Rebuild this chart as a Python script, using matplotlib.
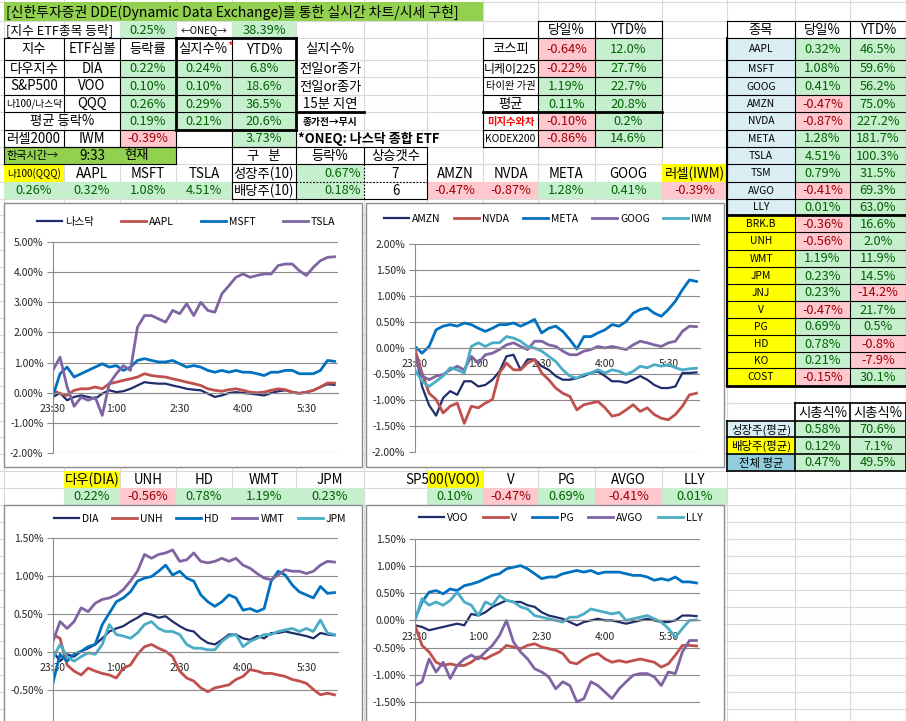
import numpy as np
import matplotlib
matplotlib.use('Agg')
import matplotlib.pyplot as plt
from matplotlib.patches import Rectangle
from matplotlib.ticker import FuncFormatter

plt.rcParams['font.family'] = ['Noto Sans CJK KR', 'DejaVu Sans']

W, H = 906, 721

# ---------------- table data ----------------
title = '[신한투자증권 DDE(Dynamic Data Exchange)를 통한 실시간 차트/시세 구현]'
oneq_day, oneq_ytd = 0.25, 38.39

idx_names = ['다우지수', 'S&P500', '나100/나스닥']
idx_etf = ['DIA', 'VOO', 'QQQ']
idx_chg = [0.22, 0.10, 0.26]
idx_real = [0.24, 0.10, 0.29]
idx_ytd = [6.8, 18.6, 36.5]
idx_note = ['전일or종가', '전일or종가', '15분 지연']
avg_chg, avg_real, avg_ytd = 0.19, 0.21, 20.6
iwm_chg, iwm_ytd = -0.39, 3.73
kr_time = '9:33'

grp_names = ['성장주(10)', '배당주(10)']
grp_chg = [0.67, 0.18]
grp_up = [7, 6]

world_names = ['코스피', '니케이225', '타이완 가권', '평균', '미지수와차', 'KODEX200']
world_day = [-0.64, -0.22, 1.19, 0.11, -0.10, -0.86]
world_ytd = [12.0, 27.7, 22.7, 20.8, 0.2, 14.6]

stock_names = ['AAPL', 'MSFT', 'GOOG', 'AMZN', 'NVDA', 'META', 'TSLA', 'TSM', 'AVGO', 'LLY',
               'BRK.B', 'UNH', 'WMT', 'JPM', 'JNJ', 'V', 'PG', 'HD', 'KO', 'COST']
stock_day = [0.32, 1.08, 0.41, -0.47, -0.87, 1.28, 4.51, 0.79, -0.41, 0.01,
             -0.36, -0.56, 1.19, 0.23, 0.23, -0.47, 0.69, 0.78, 0.21, -0.15]
stock_ytd = [46.5, 59.6, 56.2, 75.0, 227.2, 181.7, 100.3, 31.5, 69.3, 63.0,
             16.6, 2.0, 11.9, 14.5, -14.2, 21.7, 0.5, -0.8, -7.9, 30.1]

cap_names = ['성장주(평균)', '배당주(평균)', '전체 평균']
cap_day = [0.58, 0.12, 0.47]
cap_ytd = [70.6, 7.1, 49.5]

hdr1 = ['나100(QQQ)', 'AAPL', 'MSFT', 'TSLA']
hdr1_val = [0.26, 0.32, 1.08, 4.51]
hdr2 = ['AMZN', 'NVDA', 'META', 'GOOG', '러셀(IWM)']
hdr2_val = [-0.47, -0.87, 1.28, 0.41, -0.39]
hdr3 = ['다우(DIA)', 'UNH', 'HD', 'WMT', 'JPM']
hdr3_val = [0.22, -0.56, 0.78, 1.19, 0.23]
hdr4 = ['SP500(VOO)', 'V', 'PG', 'AVGO', 'LLY']
hdr4_val = [0.10, -0.47, 0.69, -0.41, 0.01]

# ---------------- intraday series (%), 23:30 -> close ----------------
tick_labels = ['23:30', '1:00', '2:30', '4:00', '5:30']
tick_pos = [0, 90, 180, 270, 360]

nasdaq = [-0.14, -0.01, -0.25, -0.14, -0.09, -0.14, -0.2, -0.03, 0.08, 0.02, 0.05, 0.13, 0.24, 0.35,
          0.32, 0.3, 0.3, 0.24, 0.19, 0.13, 0.1, 0.08, -0.03, -0.14, -0.09, -0.01, 0.02, -0.01, -0.03,
          -0.06, -0.09, -0.01, 0.05, 0.08, 0.02, -0.01, 0.02, 0.08, 0.19, 0.28, 0.26]
aapl = [0.08, -0.03, -0.09, 0.08, 0.13, 0.13, 0.19, 0.13, 0.3, 0.35, 0.41, 0.46, 0.52, 0.63, 0.57,
        0.54, 0.52, 0.46, 0.41, 0.35, 0.3, 0.24, 0.13, 0.08, 0.05, 0.1, 0.13, 0.08, 0.02, 0.0, 0.02,
        0.08, 0.13, 0.1, 0.02, -0.03, 0.02, 0.08, 0.19, 0.32, 0.32]
msft = [-0.1, 0.63, 0.85, 0.52, 0.63, 0.74, 0.85, 0.96, 0.85, 0.9, 0.74, 0.85, 1.07, 1.13, 1.07,
        1.02, 1.02, 1.07, 0.96, 0.85, 0.9, 0.85, 0.74, 0.68, 0.74, 0.68, 0.74, 0.68, 0.68, 0.63, 0.57,
        0.68, 0.68, 0.74, 0.74, 0.63, 0.63, 0.63, 0.74, 1.07, 1.04]
tsla = [0.75, 1.18, 0.2, -0.45, -0.15, -0.25, -0.15, -0.75, 0.3, 0.63, 0.9, 0.74, 2.17, 2.56, 2.56,
        2.45, 2.34, 2.73, 2.62, 2.95, 2.56, 3.0, 2.73, 2.67, 3.28, 3.55, 3.83, 3.94, 3.83, 3.89, 3.94,
        3.94, 4.22, 4.27, 4.27, 4.05, 3.89, 4.16, 4.38, 4.49, 4.51]

amzn = [-0.03, -0.74, -1.1, -1.3, -0.96, -0.83, -0.9, -0.64, -0.64, -0.74, -0.71, -0.61, -0.45,
        -0.16, -0.13, -0.42, -0.22, -0.22, -0.35, -0.42, -0.54, -0.61, -0.61, -0.58, -0.54, -0.48,
        -0.45, -0.54, -0.64, -0.64, -0.67, -0.61, -0.54, -0.61, -0.71, -0.77, -0.77, -0.74, -0.48,
        -0.48, -0.47]
nvda = [-0.03, -0.48, -0.87, -0.99, -1.25, -1.12, -1.06, -1.45, -1.12, -1.15, -1.06, -0.99, -0.48,
        -0.29, -0.42, -0.42, -0.29, -0.22, -0.48, -0.61, -0.77, -0.87, -0.93, -1.19, -1.09, -1.06,
        -1.03, -1.15, -1.31, -1.28, -1.19, -1.09, -1.22, -1.15, -1.28, -1.35, -1.38, -1.28, -1.12,
        -0.9, -0.87]
meta = [0.03, -0.1, 0.03, 0.35, 0.42, 0.45, 0.42, 0.48, 0.45, 0.38, 0.32, 0.38, 0.45, 0.45, 0.48,
        0.42, 0.48, 0.55, 0.29, 0.38, 0.42, 0.32, 0.16, -0.02, 0.22, 0.22, 0.29, 0.35, 0.45, 0.42,
        0.51, 0.67, 0.74, 0.77, 0.67, 0.61, 0.74, 0.9, 1.12, 1.31, 1.28]
goog = [-0.16, -0.54, -0.61, -0.54, -0.51, -0.42, -0.35, -0.42, -0.16, -0.29, -0.13, -0.1, -0.03,
        0.06, 0.1, 0.03, -0.03, 0.13, 0.13, 0.06, 0.03, -0.06, -0.13, -0.13, -0.06, -0.03, 0.03, 0.0,
        0.03, 0.0, -0.03, 0.06, 0.13, 0.1, 0.06, 0.03, 0.1, 0.13, 0.32, 0.42, 0.41]
iwm = [-0.42, -0.64, -0.74, -0.64, -0.54, -0.38, -0.42, -0.48, 0.03, 0.1, 0.03, 0.1, 0.1, 0.22, 0.19,
       0.13, 0.03, 0.0, -0.06, -0.16, -0.26, -0.42, -0.54, -0.58, -0.51, -0.48, -0.42, -0.48, -0.42,
       -0.45, -0.51, -0.45, -0.35, -0.38, -0.32, -0.35, -0.32, -0.38, -0.42, -0.4, -0.39]

dia = [0.01, -0.12, -0.03, -0.06, 0.01, 0.05, 0.1, 0.18, 0.27, 0.31, 0.34, 0.4, 0.45, 0.51, 0.49,
       0.45, 0.47, 0.4, 0.34, 0.29, 0.27, 0.18, 0.12, 0.1, 0.16, 0.23, 0.23, 0.18, 0.16, 0.21, 0.18,
       0.25, 0.25, 0.27, 0.25, 0.23, 0.21, 0.18, 0.25, 0.23, 0.22]
unh = [0.23, 0.18, -0.17, -0.25, -0.3, -0.21, -0.25, -0.28, -0.3, -0.34, -0.21, -0.17, -0.03, 0.07,
       0.1, 0.05, 0.01, -0.06, -0.25, -0.34, -0.38, -0.47, -0.52, -0.47, -0.45, -0.43, -0.36, -0.32,
       -0.23, -0.25, -0.28, -0.28, -0.3, -0.32, -0.36, -0.38, -0.41, -0.49, -0.56, -0.54, -0.56]
hd = [-0.4, -0.03, -0.12, -0.03, 0.01, 0.07, 0.1, 0.36, 0.51, 0.66, 0.71, 0.79, 0.93, 0.97, 0.99,
      1.06, 1.14, 1.01, 1.06, 0.97, 0.93, 0.75, 0.66, 0.6, 0.66, 0.75, 0.71, 0.55, 0.57, 0.53, 0.57,
      0.93, 1.06, 1.01, 0.88, 0.79, 0.75, 0.71, 0.86, 0.77, 0.78]
wmt = [0.14, 0.4, 0.31, 0.4, 0.58, 0.53, 0.64, 0.69, 0.71, 0.75, 0.82, 0.93, 1.06, 1.28, 1.23, 1.28,
       1.3, 1.34, 1.19, 1.21, 1.3, 1.19, 1.17, 1.19, 1.23, 1.19, 1.23, 1.14, 1.1, 1.03, 0.97, 0.95,
       1.01, 1.08, 1.06, 1.06, 1.03, 1.06, 1.14, 1.19, 1.18]
jpm = [-0.08, 0.1, -0.06, -0.12, -0.06, -0.01, -0.03, 0.1, 0.36, 0.23, 0.21, 0.18, 0.25, 0.36, 0.4,
       0.31, 0.27, 0.27, 0.23, 0.1, 0.05, 0.05, 0.03, 0.03, 0.14, 0.21, 0.23, 0.07, 0.14, 0.18, 0.23,
       0.23, 0.27, 0.29, 0.31, 0.27, 0.31, 0.27, 0.42, 0.25, 0.23]

voo = [-0.09, -0.12, -0.18, -0.15, -0.12, -0.09, -0.06, -0.09, 0.12, 0.09, 0.15, 0.25, 0.31, 0.37,
       0.34, 0.34, 0.28, 0.25, 0.15, 0.09, 0.06, 0.03, -0.03, -0.09, -0.03, 0.0, 0.03, 0.0, 0.0,
       -0.03, -0.06, -0.03, 0.0, 0.03, 0.0, -0.03, -0.03, 0.0, 0.09, 0.09, 0.08]
visa = [-0.09, -0.46, -0.58, -0.77, -0.83, -0.8, -0.83, -0.83, -0.77, -0.67, -0.71, -0.64, -0.58,
        -0.46, -0.49, -0.52, -0.46, -0.43, -0.49, -0.52, -0.55, -0.61, -0.77, -0.8, -0.71, -0.64,
        -0.61, -0.71, -0.77, -0.74, -0.77, -0.74, -0.71, -0.74, -0.77, -0.86, -0.8, -0.64, -0.46,
        -0.46, -0.47]
pg = [0.03, 0.34, 0.52, 0.55, 0.49, 0.58, 0.55, 0.64, 0.67, 0.71, 0.77, 0.83, 0.86, 0.95, 0.98, 1.01,
      0.95, 0.86, 0.77, 0.8, 0.8, 0.86, 0.89, 0.92, 0.89, 0.92, 0.86, 0.89, 0.89, 0.89, 0.86, 0.83,
      0.83, 0.8, 0.74, 0.77, 0.74, 0.8, 0.71, 0.71, 0.69]
avgo = [-1.2, -1.13, -0.71, -0.95, -0.77, -1.07, -0.83, -0.71, -0.64, -0.71, -0.58, -0.46, -0.28,
        0.0, -0.4, -0.58, -0.71, -0.89, -0.95, -1.04, -1.26, -1.13, -1.2, -1.5, -1.44, -1.13, -1.2,
        -1.32, -1.44, -1.26, -1.13, -1.01, -0.98, -0.98, -1.04, -1.2, -0.95, -0.98, -0.58, -0.37,
        -0.37]
lly = [0.0, 0.4, 0.28, 0.34, 0.28, 0.37, 0.52, 0.34, 0.28, 0.09, 0.34, 0.28, 0.46, 0.37, 0.34, 0.25,
       0.21, 0.09, 0.06, 0.03, 0.0, -0.03, 0.06, 0.06, 0.12, 0.21, 0.18, 0.15, 0.12, 0.15, 0.0, 0.03,
       0.06, 0.09, 0.03, -0.03, -0.15, -0.31, -0.15, 0.0, 0.01]

# ---------------- styles ----------------
GREEN_F, GREEN_T = '#C6EFCE', '#006100'
RED_F, RED_T = '#FFC7CE', '#9C0006'
line_colors = ['#1F2D6B', '#C0504D', '#0070C0', '#8064A2', '#4BACC6']
line_widths = [1.6, 2.0, 2.0, 2.0, 2.0]

cols = [4, 64, 120, 176, 232, 296, 364, 427, 483, 538, 595, 662, 727, 795, 850, 906]
rows = [2, 21, 38, 60, 77, 95, 112, 130, 147, 164, 182, 199, 215, 232, 250, 267, 284, 301, 318,
        335, 352, 368, 386, 403, 421, 437, 454, 471, 488, 505, 522, 539, 556, 573, 590, 607, 624,
        641, 658, 675, 692, 709, 726]

fig = plt.figure(figsize=(W / 100, H / 100), dpi=100)
sh = fig.add_axes([0, 0, 1, 1])
sh.set_xlim(0, W)
sh.set_ylim(H, 0)
sh.axis('off')

for x in cols:
    sh.plot([x, x], [0, H], color='#DADADA', lw=0.8, zorder=0)
for y in rows:
    sh.plot([0, W], [y, y], color='#DADADA', lw=0.8, zorder=0)


def cell(c0, r0, text='', c1=None, r1=None, fill=None, color='black', size=9.2,
         ha='center', weight='normal', dx=3):
    c1 = c0 + 1 if c1 is None else c1
    r1 = r0 + 1 if r1 is None else r1
    x0, x1, y0, y1 = cols[c0], cols[c1], rows[r0], rows[r1]
    if fill:
        sh.add_patch(Rectangle((x0, y0), x1 - x0, y1 - y0, facecolor=fill, edgecolor='none', zorder=1))
    if text != '':
        tx = {'center': (x0 + x1) / 2, 'left': x0 + dx, 'right': x1 - dx}[ha]
        sh.text(tx, (y0 + y1) / 2 + 0.5, text, ha=ha, va='center', fontsize=size, color=color,
                fontweight=weight, zorder=3)


def pct_cell(c0, r0, v, fmt='{:.2f}%', **kw):
    if v >= 0:
        cell(c0, r0, fmt.format(v), fill=GREEN_F, color=GREEN_T, **kw)
    else:
        cell(c0, r0, fmt.format(v), fill=RED_F, color=RED_T, **kw)


def hline(c0, c1, r, lw=0.8, ls='-'):
    sh.plot([cols[c0], cols[c1]], [rows[r], rows[r]], color='black', lw=lw, ls=ls, zorder=2)


def vline(c, r0, r1, lw=0.8, ls='-'):
    sh.plot([cols[c], cols[c]], [rows[r0], rows[r1]], color='black', lw=lw, ls=ls, zorder=2)


def box(c0, r0, c1, r1, lw=0.8):
    hline(c0, c1, r0, lw)
    hline(c0, c1, r1, lw)
    vline(c0, r0, r1, lw)
    vline(c1, r0, r1, lw)


# title rows
cell(0, 0, title, c1=8, fill='#92D050', ha='left', size=10, dx=2)
cell(0, 1, '[지수 ETF종목 등락]', c1=2, ha='left', dx=2)
pct_cell(2, 1, oneq_day)
cell(3, 1, '←ONEQ→', size=7)
pct_cell(4, 1, oneq_ytd)

# index table
for c, t in enumerate(['지수', 'ETF심볼', '등락률']):
    cell(c, 2, t, size=9.6)
sh.text(227, 49.5, '실지수%', ha='right', va='center', fontsize=9.6, zorder=3)
sh.text(227, 47, '*', ha='left', va='center', fontsize=9, color='red', zorder=3)
cell(4, 2, 'YTD%', size=9.6)
cell(5, 2, '실지수%', size=9.6)
for i in range(3):
    cell(0, 3 + i, idx_names[i], size=9.6 if i < 2 else 7)
    cell(1, 3 + i, idx_etf[i], size=9.6)
    pct_cell(2, 3 + i, idx_chg[i])
    pct_cell(3, 3 + i, idx_real[i])
    pct_cell(4, 3 + i, idx_ytd[i], fmt='{:.1f}%')
    cell(5, 3 + i, idx_note[i], size=9.6)
cell(0, 6, '평균 등락%', c1=2, size=9.6)
pct_cell(2, 6, avg_chg)
pct_cell(3, 6, avg_real)
pct_cell(4, 6, avg_ytd, fmt='{:.1f}%')
cell(5, 6, '종가전→무시', size=7, weight='bold')
cell(0, 7, '러셀2000', size=9.6)
cell(1, 7, 'IWM', size=9.6)
pct_cell(2, 7, iwm_chg)
pct_cell(4, 7, iwm_ytd)
cell(5, 7, '*ONEQ: 나스닥 종합 ETF', c1=8, ha='left', weight='bold', size=9.4, dx=2)

for r in range(2, 9):
    hline(0, 5, r)
for c in [0, 2, 3, 4, 5]:
    vline(c, 2, 8)
vline(1, 2, 6)
vline(1, 7, 8)
box(3, 2, 5, 7, lw=2)
hline(5, 6, 6, lw=2)

# korean time
cell(0, 8, '', c1=3, fill='#92D050')
cell(0, 8, '한국시간→', size=8, ha='left', dx=2)
cell(1, 8, kr_time, size=9.6)
sh.text(137, 155.5, '현재', ha='center', va='center', fontsize=9.6, zorder=3)
box(0, 8, 3, 9)

# growth / dividend group
cell(4, 8, '구   분', size=9.6)
cell(5, 8, '등락%', size=9.6)
cell(6, 8, '상승갯수', size=9.6)
for i in range(2):
    cell(4, 9 + i, grp_names[i], size=9.6)
    cell(5, 9 + i, '{:.2f}%'.format(grp_chg[i]), fill=GREEN_F, color=GREEN_T, ha='right')
    cell(6, 9 + i, str(grp_up[i]), size=9.6)
hline(4, 7, 8)
hline(4, 7, 9)
hline(4, 5, 10)
hline(5, 7, 10, ls=(0, (1.5, 1.5)))
hline(4, 7, 11)
vline(4, 8, 11)
vline(5, 8, 11)
vline(6, 8, 9)
vline(6, 9, 11, ls=(0, (1.5, 1.5)))
vline(7, 8, 11)

# chart header cells
for i in range(4):
    cell(i, 9, hdr1[i], fill='#FFFF00' if i == 0 else None, size=7 if i == 0 else 9.6)
    pct_cell(i, 10, hdr1_val[i])
for i in range(5):
    cell(7 + i, 9, hdr2[i], fill='#FFFF00' if i == 4 else None, size=9.6)
    pct_cell(7 + i, 10, hdr2_val[i])

# world index table
cell(9, 1, '당일%', size=9.6)
cell(10, 1, 'YTD%', size=9.6)
for i in range(6):
    small = world_names[i] in ('타이완 가권', 'KODEX200', '미지수와차')
    cell(8, 2 + i, world_names[i], size=7.4 if small else (8.6 if i == 1 else 9.6),
         color='red' if i == 4 else 'black', weight='bold' if i == 4 else 'normal')
    pct_cell(9, 2 + i, world_day[i])
    pct_cell(10, 2 + i, world_ytd[i], fmt='{:.1f}%')
for r in range(2, 9):
    hline(8, 11, r)
hline(9, 11, 1)
for c in range(8, 12):
    vline(c, 2, 8)
vline(9, 1, 2)
vline(10, 1, 2)
vline(11, 1, 2)
hline(8, 11, 6, lw=2)

# stock table
cell(12, 1, '종목', size=9.6)
cell(13, 1, '당일%', size=9.6)
cell(14, 1, 'YTD%', size=9.6)
for i, name in enumerate(stock_names):
    cell(12, 2 + i, name, fill='#DAEEF3' if i < 10 else '#FFFF00', size=7.4)
    pct_cell(13, 2 + i, stock_day[i])
    pct_cell(14, 2 + i, stock_ytd[i], fmt='{:.1f}%')
for r in range(1, 23):
    hline(12, 15, r)
for c in range(12, 16):
    vline(c, 1, 22)
hline(12, 15, 12, lw=2)
hline(12, 15, 22, lw=2)
vline(12, 2, 22, lw=1.5)

# cap weighted table
cell(13, 23, '시총식%', size=9.6)
cell(14, 23, '시총식%', size=9.6)
cap_fill = ['#DAEEF3', '#FFFF00', '#92CDDC']
for i in range(3):
    cell(12, 24 + i, cap_names[i], fill=cap_fill[i], size=8.2)
    pct_cell(13, 24 + i, cap_day[i])
    pct_cell(14, 24 + i, cap_ytd[i], fmt='{:.1f}%')
for r in range(24, 28):
    hline(12, 15, r, lw=1.2)
hline(13, 15, 23, lw=1.2)
for c in range(12, 16):
    vline(c, 24, 27, lw=1.2)
vline(13, 23, 24, lw=1.2)
vline(14, 23, 24, lw=1.2)
vline(15, 23, 24, lw=1.2)

# lower chart headers
for i in range(5):
    cell(1 + i, 27, hdr3[i], fill='#FFFF00' if i == 0 else None, size=9.6)
    pct_cell(1 + i, 28, hdr3_val[i])
    if i == 0:
        cell(7, 27, '', fill='#FFFF00')
        sh.text(cols[8] - 3, 480, hdr4[i], ha='right', va='center', fontsize=9.6, zorder=3)
    else:
        cell(7 + i, 27, hdr4[i], size=9.6)
    pct_cell(7 + i, 28, hdr4_val[i])

# chart boxes
for bx in [(4, 203, 362, 467), (366, 203, 724, 467), (4, 505, 362, 740), (366, 505, 724, 740)]:
    sh.add_patch(Rectangle((bx[0], bx[1]), bx[2] - bx[0], bx[3] - bx[1], facecolor='white',
                           edgecolor='#8C8C8C', lw=1.0, zorder=5))


def pfmt(v, p):
    return '{:.2f}%'.format(0.0 if abs(v) < 1e-9 else v)


def add_chart(px, series, names, ylim, step, leg_xy, colspace, tick_lo=None):
    x0, y0, x1, y1 = px
    ax = fig.add_axes([x0 / W, 1 - y1 / H, (x1 - x0) / W, (y1 - y0) / H])
    ax.patch.set_visible(False)
    for k, v in enumerate(series):
        t = np.linspace(0, 400, len(v))
        ax.plot(t, v, color=line_colors[k], lw=line_widths[k], label=names[k],
                solid_joinstyle='round')
    ax.set_xlim(0, 405)
    ax.set_ylim(*ylim)
    lo = ylim[0] if tick_lo is None else tick_lo
    ax.set_yticks(np.round(np.arange(lo, ylim[1] + 1e-6, step), 2))
    ax.yaxis.set_major_formatter(FuncFormatter(pfmt))
    ax.set_xticks(tick_pos)
    ax.set_xticklabels(tick_labels)
    ax.grid(axis='y', color='#8C8C8C', lw=0.8)
    ax.set_axisbelow(True)
    for s in ['top', 'right']:
        ax.spines[s].set_visible(False)
    ax.spines['left'].set_color('#8C8C8C')
    ax.spines['bottom'].set_position(('data', 0))
    ax.spines['bottom'].set_color('#8C8C8C')
    ax.tick_params(axis='y', length=4, color='#8C8C8C', labelsize=7.5, labelcolor='#262626', pad=3)
    ax.tick_params(axis='x', length=0, labelsize=7.5, labelcolor='#262626', pad=8)
    ax.legend(loc='center', bbox_to_anchor=(leg_xy[0] / W, 1 - leg_xy[1] / H),
              bbox_transform=fig.transFigure, ncol=len(series), frameon=False, fontsize=7.5,
              handlelength=2.4, handletextpad=0.3, columnspacing=colspace)
    return ax


add_chart((53, 242, 338, 453), [nasdaq, aapl, msft, tsla], ['나스닥', 'AAPL', 'MSFT', 'TSLA'],
          (-2, 5), 1, (186, 222), 2.6)
add_chart((415, 244, 700, 452), [amzn, nvda, meta, goog, iwm], ['AMZN', 'NVDA', 'META', 'GOOG', 'IWM'],
          (-2, 2), 0.5, (548, 219), 1.3)
# the lowest gridline of the two lower charts lies below the visible sheet area
add_chart((53, 537.7, 338, 728.3), [dia, unh, hd, wmt, jpm], ['DIA', 'UNH', 'HD', 'WMT', 'JPM'],
          (-1, 1.5), 0.5, (200, 519), 1.3, tick_lo=-0.5)
add_chart((415, 539, 700, 729), [voo, visa, pg, avgo, lly], ['VOO', 'V', 'PG', 'AVGO', 'LLY'],
          (-2, 1.5), 0.5, (561, 518), 1.4, tick_lo=-1.5)

fig.savefig('out.png', dpi=100)
